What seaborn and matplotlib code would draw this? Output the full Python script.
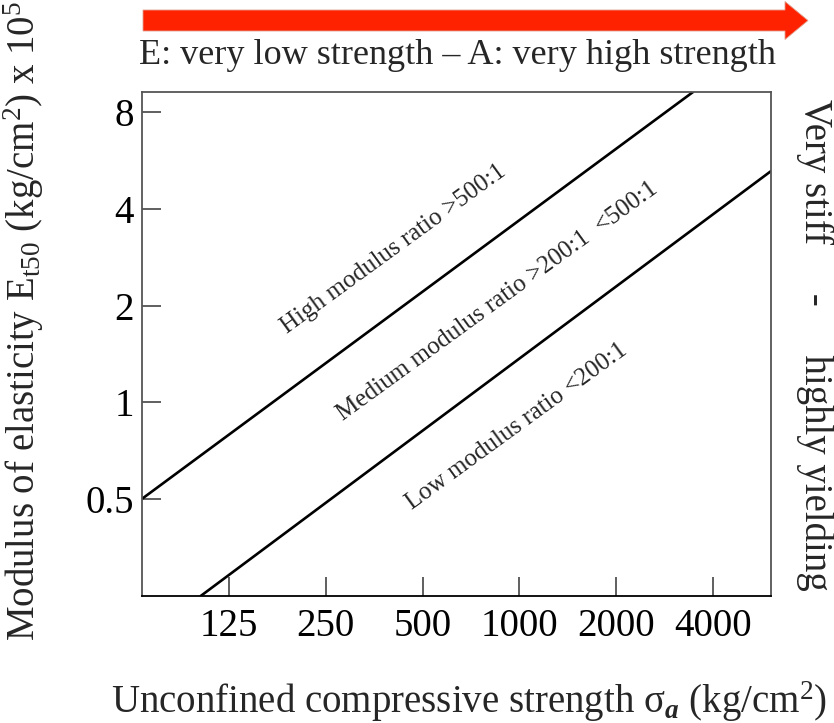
import numpy as np
import pandas as pd
import matplotlib
matplotlib.use("Agg")
import matplotlib.pyplot as plt
from matplotlib.patches import FancyArrow
import seaborn as sns

# boundary lines of the modulus ratio classes
line_names = ["upper", "upper", "lower", "lower"]
sigma_vals = [67.0, 3467.0, 102.0, 6060.0]
e_vals = [0.5, 9.26, 0.249, 5.25]

x_ticks = [125, 250, 500, 1000, 2000, 4000]
y_ticks = [0.5, 1, 2, 4, 8]
y_tick_labels = ["0.5", "1", "2", "4", "8"]

region_labels = ["High modulus ratio >500:1",
                 "Medium modulus ratio >200:1  <500:1",
                 "Low modulus ratio <200:1"]

df = pd.DataFrame({"line": line_names, "sigma": sigma_vals, "E": e_vals})

sns.set_theme(style="ticks")
plt.rcParams["font.family"] = ["Liberation Serif", "DejaVu Serif"]
plt.rcParams["mathtext.fontset"] = "custom"
plt.rcParams["mathtext.rm"] = "Liberation Serif"
plt.rcParams["mathtext.it"] = "Liberation Serif:italic"
plt.rcParams["mathtext.bf"] = "Liberation Serif:bold"
plt.rcParams["mathtext.bfit"] = "Liberation Serif:bold:italic"

BIG = 28

fig = plt.figure(figsize=(8.34, 7.23), dpi=100)
ax = fig.add_axes([142 / 834, 127 / 723, 629 / 834, 504 / 723])

sns.lineplot(data=df, x="sigma", y="E", units="line", estimator=None,
             color="black", linewidth=1.9, ax=ax)

ax.set_xscale("log")
ax.set_yscale("log")
ax.set_xlim(67.0, 6060.0)
ax.set_ylim(0.249, 9.26)
ax.minorticks_off()
ax.set_xticks(x_ticks)
ax.set_xticklabels([str(t) for t in x_ticks])
ax.set_yticks(y_ticks)
ax.set_yticklabels(y_tick_labels)
ax.tick_params(direction="in", length=14, width=1.2, colors="#444444",
               labelcolor="black", labelsize=BIG)
ax.tick_params(axis="x", pad=9)
ax.tick_params(axis="y", pad=6)
for side in ["left", "right", "top", "bottom"]:
    ax.spines[side].set_visible(True)
    ax.spines[side].set_color("#555555")
    ax.spines[side].set_linewidth(1.3)
ax.spines["bottom"].set_color("black")

ax.set_xlabel("Unconfined compressive strength \u03c3$_{\\mathbfit{a}}$ (kg/cm$^2$)", fontsize=BIG)
ax.set_ylabel("Modulus of elasticity E$_{\\rm t50}$ (kg/cm$^2$) x 10$^5$", fontsize=BIG)
ax.xaxis.set_label_coords(0.52, -0.165)
ax.yaxis.set_label_coords(-0.152, 0.545)

# class labels along the lines
ax.text(407, 2.99, region_labels[0], rotation=36, ha="center", va="center",
        fontsize=18, rotation_mode="anchor")
ax.text(852, 2.06, region_labels[1], rotation=36, ha="center", va="center",
        fontsize=18, rotation_mode="anchor")
ax.text(983, 0.84, region_labels[2], rotation=36, ha="center", va="center",
        fontsize=18, rotation_mode="anchor")

# strength arrow and headings
arrow = FancyArrow(1.43, 7.025, 6.42, 0, width=0.21, head_width=0.38,
                   head_length=0.23, length_includes_head=False,
                   facecolor="#ff2200", edgecolor="#e0a090", linewidth=0.6,
                   transform=fig.dpi_scale_trans)
fig.add_artist(arrow)
fig.text(457 / 834, 1 - 55 / 723, "E: very low strength \u2013 A: very high strength",
         ha="center", va="center", fontsize=26)
fig.text(815 / 834, 1 - 345 / 723, "Very stiff     -     highly yielding",
         ha="center", va="center", rotation=270, fontsize=BIG)

fig.savefig("out.png", dpi=100)
